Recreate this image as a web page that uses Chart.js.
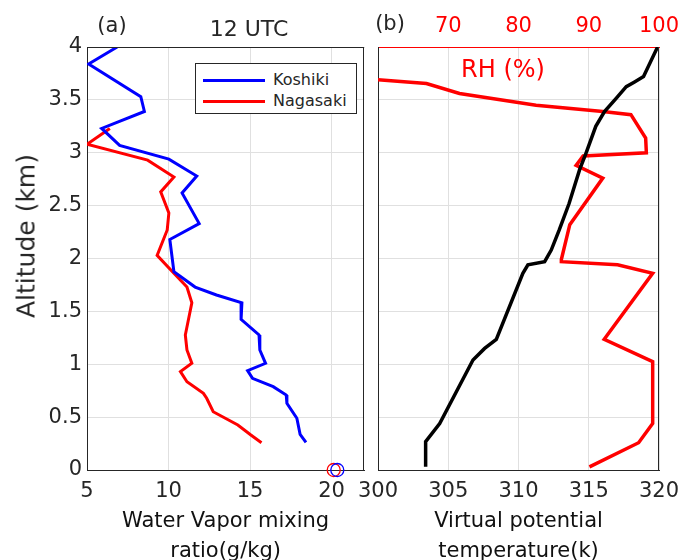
<!DOCTYPE html>
<html>
<head>
<meta charset="utf-8">
<script src="https://cdn.jsdelivr.net/npm/chart.js@4/dist/chart.umd.min.js"></script>
<style>
html,body{margin:0;padding:0;background:#fff;width:681px;height:560px;overflow:hidden;position:relative;font-family:"DejaVu Sans",sans-serif;}
canvas{position:absolute;top:0;}
#c1{left:0;}
#c2{left:340px;}
.lbl{position:absolute;white-space:nowrap;color:#262626;line-height:1;transform:translate(-50%,-50%);}
#legend{position:absolute;left:195px;top:63px;width:160px;height:49px;border:1px solid #262626;background:#fff;font-size:16px;color:#262626;}
.item{position:absolute;left:0;height:20px;width:160px;}
.item .ln{position:absolute;left:7px;width:62px;height:3px;top:9px;}
.item .tx{position:absolute;left:77px;top:1px;line-height:18px;}
</style>
</head>
<body>
<canvas id="c1" width="372" height="560"></canvas>
<canvas id="c2" width="341" height="560"></canvas>
<div class="lbl" style="left:112px;top:25px;font-size:21px;">(a)</div>
<div class="lbl" style="left:249px;top:29px;font-size:22px;">12 UTC</div>
<div class="lbl" style="left:390px;top:23px;font-size:21px;">(b)</div>
<div class="lbl" style="left:503px;top:69px;font-size:24px;color:#ff0000;">RH (%)</div>
<div class="lbl" style="left:26px;top:236px;font-size:25px;transform:translate(-50%,-50%) rotate(-90deg);">Altitude (km)</div>
<div id="legend"></div>
<script>
// Water vapor mixing ratio (g/kg) vs altitude (km)
const koshikiMix = [6.85, 5.1, 8.3, 8.52, 5.9, 7.0, 10.02, 11.73, 10.83, 11.88, 10.08, 10.33, 11.63, 12.94, 14.5, 14.45, 15.55, 15.6, 15.95, 14.85, 15.15, 16.42, 17.22, 17.26, 17.87, 18.07, 18.43];
const koshikiAlt = [4.0, 3.84, 3.53, 3.39, 3.23, 3.07, 2.94, 2.78, 2.62, 2.33, 2.18, 1.875, 1.73, 1.655, 1.58, 1.425, 1.277, 1.135, 1.009, 0.94, 0.867, 0.788, 0.709, 0.63, 0.489, 0.337, 0.262];
const nagasakiMix = [6.4, 5.0, 8.72, 10.33, 9.52, 10.02, 9.92, 9.3, 10.33, 11.13, 11.43, 11.03, 11.13, 11.43, 10.73, 11.13, 12.14, 12.34, 12.74, 14.25, 15.05, 15.7];
const nagasakiAlt = [3.23, 3.08, 2.93, 2.77, 2.63, 2.43, 2.27, 2.03, 1.86, 1.73, 1.58, 1.277, 1.135, 1.009, 0.93, 0.835, 0.725, 0.678, 0.551, 0.426, 0.331, 0.258];
// surface observations (circles at 0 km)
const koshikiSurfMix = [20.35];
const nagasakiSurfMix = [20.13];
const surfAlt = [0];
// Virtual potential temperature (K) vs altitude (km)
const thetaV = [319.9, 318.9, 318.26, 317.67, 316.95, 316.12, 315.5, 314.8, 314.35, 313.6, 312.9, 312.33, 311.86, 310.67, 310.31, 308.42, 307.59, 306.76, 304.39, 303.39, 303.39];
const thetaAlt = [4.0, 3.72, 3.67, 3.625, 3.515, 3.39, 3.25, 2.995, 2.84, 2.52, 2.27, 2.08, 1.97, 1.94, 1.86, 1.236, 1.15, 1.04, 0.44, 0.268, 0.03];
// Relative humidity (%) vs altitude (km)
const rhVal = [60, 66.9, 71.6, 82.5, 92.0, 96.0, 98.1, 98.2, 89.2, 88.2, 92.0, 87.3, 86.1, 86.1, 94.1, 99.1, 92.2, 99.1, 99.1, 97.1, 90.1];
const rhAlt = [3.69, 3.655, 3.56, 3.45, 3.39, 3.36, 3.14, 3.0, 2.97, 2.88, 2.76, 2.32, 1.99, 1.97, 1.94, 1.86, 1.236, 1.024, 0.44, 0.258, 0.03];
// ticks
const mixTicks = [5, 10, 15, 20];
const thetaTicks = [300, 305, 310, 315, 320];
const rhTicks = [70, 80, 90, 100];
const altTicks = [0, 0.5, 1, 1.5, 2, 2.5, 3, 3.5, 4];
const altTickLabels = ['0', '0.5', '1', '1.5', '2', '2.5', '3', '3.5', '4'];

const pts = (xs, ys) => xs.map((x, i) => ({x: x, y: ys[i]}));
const setTicks = arr => scale => { scale.ticks = arr.map(v => ({value: v})); };
const noPad = s => { s.paddingLeft = 0; s.paddingRight = 0; s.paddingTop = 0; s.paddingBottom = 0; };
const FONT = '"DejaVu Sans", sans-serif';
const DARK = '#262626';
const GRID = '#e0e0e0';

const boxPlugin = {
  id: 'box',
  afterDraw(chart, args, opts) {
    const ctx = chart.ctx, a = chart.chartArea;
    ctx.save();
    ctx.strokeStyle = DARK; ctx.lineWidth = 1;
    ctx.beginPath();
    if (opts.top) { ctx.moveTo(a.left, Math.round(a.top) + 0.5); ctx.lineTo(a.right, Math.round(a.top) + 0.5); }
    ctx.moveTo(Math.round(a.right) - 0.5, a.top); ctx.lineTo(Math.round(a.right) - 0.5, a.bottom);
    ctx.stroke();
    ctx.restore();
  }
};

const tickFont = {family: FONT, size: 21};
const titleFont = {family: FONT, size: 21, lineHeight: 30 / 21};

const chart1 = new Chart(document.getElementById('c1'), {
  type: 'scatter',
  data: {
    datasets: [
      {label: 'Koshiki', inLegend: true, data: pts(koshikiMix, koshikiAlt), showLine: true, borderColor: '#0000ff', borderWidth: 3, pointRadius: 0, tension: 0},
      {label: 'Nagasaki', inLegend: true, data: pts(nagasakiMix, nagasakiAlt), showLine: true, borderColor: '#ff0000', borderWidth: 3, pointRadius: 0, tension: 0},
      {label: 'Koshiki surface', data: pts(koshikiSurfMix, surfAlt), showLine: false, borderColor: '#0000ff', backgroundColor: 'rgba(0,0,0,0)', borderWidth: 1.3, pointRadius: 6.5, clip: false},
      {label: 'Nagasaki surface', data: pts(nagasakiSurfMix, surfAlt), showLine: false, borderColor: '#ff0000', backgroundColor: 'rgba(0,0,0,0)', borderWidth: 1.3, pointRadius: 6.5, clip: false}
    ]
  },
  options: {
    responsive: false, animation: false, devicePixelRatio: 1,
    layout: {padding: {top: 47, right: 5, bottom: 0, left: 0}},
    plugins: {legend: {display: false}, tooltip: {enabled: false}, box: {top: true}},
    scales: {
      x: {
        type: 'linear', min: 5, max: 22,
        afterBuildTicks: setTicks(mixTicks),
        afterFit: s => { s.height = 90; noPad(s); },
        grid: {color: GRID, drawTicks: false},
        border: {color: DARK, width: 1},
        ticks: {font: tickFont, color: DARK, padding: 9, maxRotation: 0, callback: v => String(v)},
        title: {display: true, text: ['Water Vapor mixing', 'ratio(g/kg)'], font: titleFont, color: '#111', padding: {top: 0, bottom: -7}}
      },
      y: {
        type: 'linear', min: 0, max: 4,
        afterBuildTicks: setTicks(altTicks),
        afterFit: s => { s.width = 87; noPad(s); },
        grid: {color: GRID, drawTicks: false},
        border: {color: DARK, width: 1},
        ticks: {font: tickFont, color: DARK, padding: 5, callback: (v, i) => altTickLabels[i]}
      }
    }
  },
  plugins: [boxPlugin]
});

const chart2 = new Chart(document.getElementById('c2'), {
  type: 'scatter',
  data: {
    datasets: [
      {label: 'Virtual potential temperature', data: pts(thetaV, thetaAlt), xAxisID: 'x', showLine: true, borderColor: '#000000', borderWidth: 3.5, pointRadius: 0, tension: 0},
      {label: 'RH', data: pts(rhVal, rhAlt), xAxisID: 'x2', showLine: true, borderColor: '#ff0000', borderWidth: 3.5, pointRadius: 0, tension: 0}
    ]
  },
  options: {
    responsive: false, animation: false, devicePixelRatio: 1,
    layout: {padding: {top: 0, right: 22, bottom: 0, left: 0}},
    plugins: {legend: {display: false}, tooltip: {enabled: false}, box: {top: false}},
    scales: {
      x: {
        type: 'linear', position: 'bottom', min: 300, max: 320,
        afterBuildTicks: setTicks(thetaTicks),
        afterFit: s => { s.height = 90; noPad(s); },
        grid: {color: GRID, drawTicks: false},
        border: {color: DARK, width: 1},
        ticks: {font: tickFont, color: DARK, padding: 9, maxRotation: 0, callback: v => String(v)},
        title: {display: true, text: ['Virtual potential', 'temperature(k)'], font: titleFont, color: '#111', padding: {top: 0, bottom: -7}}
      },
      x2: {
        type: 'linear', position: 'top', min: 60, max: 100,
        afterBuildTicks: setTicks(rhTicks),
        afterFit: s => { s.height = 47; noPad(s); },
        grid: {display: false, drawTicks: false},
        border: {color: '#ff0000', width: 1},
        ticks: {font: tickFont, color: '#ff0000', padding: 8, maxRotation: 0, callback: v => String(v)}
      },
      y: {
        type: 'linear', min: 0, max: 4,
        afterBuildTicks: setTicks(altTicks),
        afterFit: s => { s.width = 38; noPad(s); },
        grid: {color: GRID, drawTicks: false},
        border: {color: DARK, width: 1},
        ticks: {display: false}
      }
    }
  },
  plugins: [boxPlugin]
});

// HTML legend built from the chart's datasets
const legendEl = document.getElementById('legend');
chart1.data.datasets.filter(d => d.inLegend).forEach((d, i) => {
  const it = document.createElement('div');
  it.className = 'item';
  it.style.top = (6 + i * 21) + 'px';
  const ln = document.createElement('div'); ln.className = 'ln'; ln.style.background = d.borderColor;
  const tx = document.createElement('div'); tx.className = 'tx'; tx.textContent = d.label;
  it.appendChild(ln); it.appendChild(tx); legendEl.appendChild(it);
});
</script>
</body>
</html>
